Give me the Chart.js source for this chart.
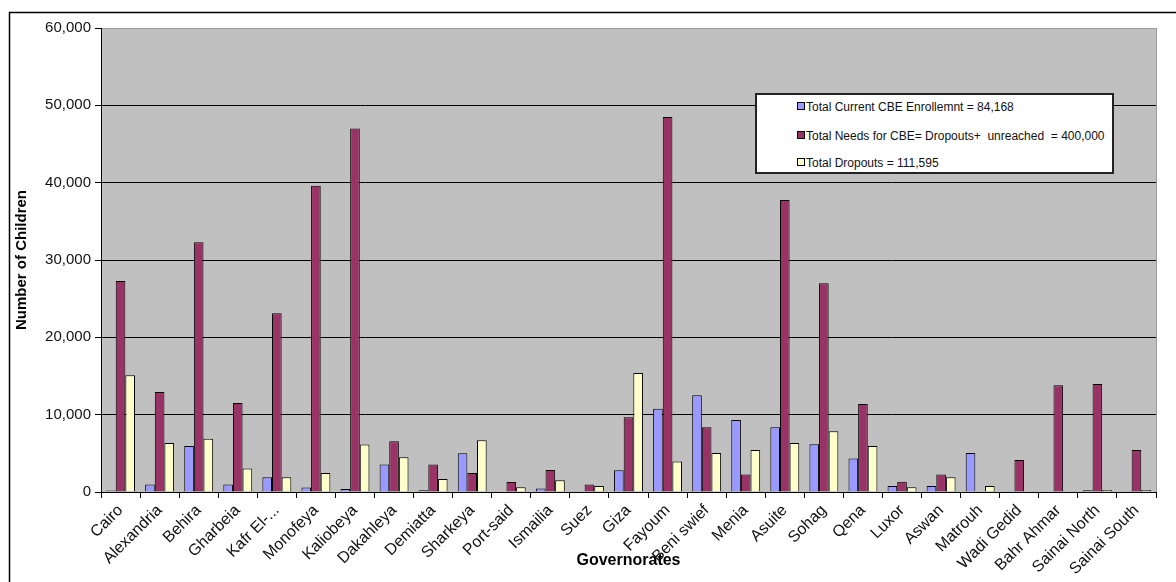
<!DOCTYPE html>
<html>
<head>
<meta charset="utf-8">
<script src="https://cdn.jsdelivr.net/npm/chart.js@4"></script>
<style>
  body { margin: 0; background: #fff; }
  #wrap { position: relative; width: 1176px; height: 582px; }
  #legend {
    position: absolute; left: 755px; top: 93px; width: 355px; height: 77px;
    background: #fff; border: 2px solid #222;
    font: 12px "Liberation Sans", Arial, sans-serif; color: #111;
  }
  #legend div { position: absolute; left: 40px; white-space: pre; line-height: 14px; }
  #legend span {
    display: inline-block; width: 6px; height: 6px; border: 1px solid #000;
    margin-right: 1px; vertical-align: 1px;
  }
</style>
</head>
<body>
<div id="wrap">
  <canvas id="myChart"></canvas>
  <div id="legend"></div>
</div>
<script>
var governorates = ["Cairo", "Alexandria", "Behira", "Gharbeia", "Kafr El-...", "Monofeya", "Kaliobeya",
  "Dakahleya", "Demiatta", "Sharkeya", "Port-said", "Ismailia", "Suez", "Giza", "Fayoum", "Beni swief",
  "Menia", "Asuite", "Sohag", "Qena", "Luxor", "Aswan", "Matrouh", "Wadi Gedid", "Bahr Ahmar",
  "Sainai North", "Sainai South"];

var enrollment = [200, 960, 5950, 960, 1900, 570, 390, 3540, 220, 5000, 50, 440, 30, 2800, 10780, 12500,
  9310, 8370, 6170, 4320, 780, 780, 5050, 30, 20, 220, 30];
var needs = [27300, 12930, 32300, 11500, 23100, 39600, 47000, 6560, 3540, 2460, 1290, 2850, 960, 9660,
  48500, 8370, 2250, 37760, 27000, 11380, 1340, 2250, 50, 4140, 13800, 13970, 5430];
var dropouts = [15100, 6340, 6900, 3030, 1900, 2460, 6130, 4490, 1680, 6690, 610, 1510, 780, 15400, 3930,
  5050, 5430, 6340, 7850, 5950, 610, 1900, 780, 30, 20, 250, 250];

var seriesNames = ["Total Current CBE Enrollemnt = 84,168",
  "Total Needs for CBE= Dropouts+  unreached  = 400,000",
  "Total Dropouts = 111,595"];
var seriesColors = ["#9999FF", "#993366", "#FFFFCC"];
var yTicks = [0, 10000, 20000, 30000, 40000, 50000, 60000];

var FONT = '"Liberation Sans", Arial, sans-serif';

// gray plot area + outer frame
var backdrop = {
  id: 'backdrop',
  beforeDraw: function (chart) {
    var c = chart.ctx, a = chart.chartArea;
    c.save();
    c.fillStyle = '#C0C0C0';
    c.fillRect(a.left, a.top, a.right - a.left, a.bottom - a.top);
    c.strokeStyle = '#9a9a9a';
    c.lineWidth = 1;
    c.strokeRect(a.left + 0.5, a.top + 0.5, a.right - a.left, a.bottom - a.top);
    c.strokeStyle = '#000';
    c.lineWidth = 1.5;
    c.beginPath();
    c.moveTo(9.5, 600);
    c.lineTo(9.5, 12.5);
    c.lineTo(1200, 12.5);
    c.stroke();
    c.restore();
  }
};

var ctx = document.getElementById('myChart').getContext('2d');
var myChart = new Chart(ctx, {
  type: 'bar',
  data: {
    labels: governorates,
    datasets: [
      { label: seriesNames[0], data: enrollment, backgroundColor: seriesColors[0], borderColor: '#000', borderWidth: 1 },
      { label: seriesNames[1], data: needs, backgroundColor: seriesColors[1], borderColor: '#000', borderWidth: 1 },
      { label: seriesNames[2], data: dropouts, backgroundColor: seriesColors[2], borderColor: '#000', borderWidth: 1 }
    ]
  },
  options: {
    responsive: true,
    maintainAspectRatio: false,
    animation: false,
    layout: { padding: { left: 10, top: 28, right: 20, bottom: 0 } },
    datasets: { bar: { barPercentage: 1, categoryPercentage: 0.74 } },
    plugins: { legend: { display: false }, tooltip: { enabled: false } },
    scales: {
      x: {
        grid: { offset: true, drawOnChartArea: false, drawTicks: true, tickLength: 6, color: '#000' },
        border: { color: '#000', width: 1 },
        ticks: {
          autoSkip: false, maxRotation: 45, minRotation: 45, padding: 3,
          color: '#111', font: { family: FONT, size: 16 }
        },
        title: {
          display: true, text: 'Governorates', color: '#000',
          font: { family: FONT, size: 16, weight: 'bold' }, padding: { top: 0, bottom: 12 }
        },
        afterFit: function (scale) { scale.height = 90; }
      },
      y: {
        min: 0, max: 60000,
        afterBuildTicks: function (scale) { scale.ticks = yTicks.map(function (v) { return { value: v }; }); },
        grid: {
          color: function (c) { return c.tick && c.tick.value === 60000 ? 'rgba(0,0,0,0)' : '#000'; },
          tickColor: '#000', tickLength: 6, lineWidth: 1
        },
        border: { color: '#000', width: 1 },
        ticks: {
          padding: 4, color: '#111', font: { family: FONT, size: 15 },
          callback: function (v) { return v.toLocaleString('en-US'); }
        },
        title: {
          display: true, text: 'Number of Children', color: '#000',
          font: { family: FONT, size: 15, weight: 'bold' }, padding: { top: 3, bottom: 0 }
        },
        afterFit: function (scale) { scale.width = 91; }
      }
    }
  },
  plugins: [backdrop]
});

// legend box built from the same series arrays
var legend = document.getElementById('legend');
var legendTops = [5, 34, 61];
seriesNames.forEach(function (name, i) {
  var row = document.createElement('div');
  row.style.top = legendTops[i] + 'px';
  var sw = document.createElement('span');
  sw.style.background = seriesColors[i];
  row.appendChild(sw);
  row.appendChild(document.createTextNode(name));
  legend.appendChild(row);
});
</script>
</body>
</html>
